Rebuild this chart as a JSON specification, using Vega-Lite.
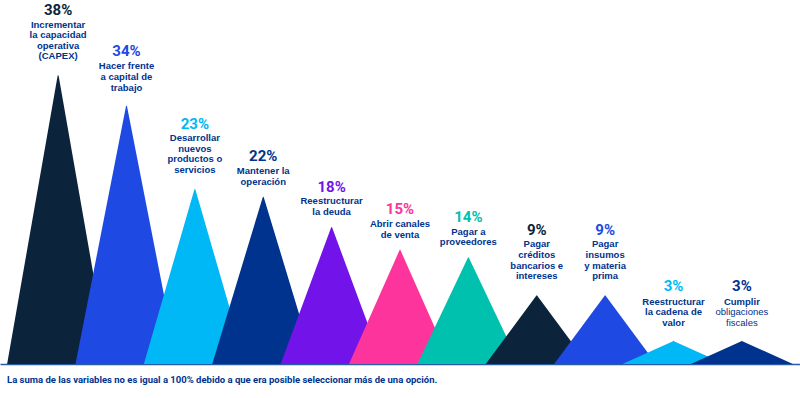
{
  "$schema": "https://vega.github.io/schema/vega-lite/v6.json",
  "width": 800,
  "height": 364,
  "autosize": {"type": "none"},
  "padding": {"left": 0, "top": 0, "right": 0, "bottom": 34},
  "background": "white",
  "config": {"view": {"stroke": null}},
  "title": {
    "text": "La suma de las variables no es igual a 100%  debido a que era posible seleccionar más de una opción.",
    "orient": "bottom",
    "anchor": "start",
    "font": "Roboto",
    "fontSize": 9.5,
    "fontWeight": "bold",
    "color": "#00338D",
    "offset": 11,
    "dx": 7
  },
  "data": {
    "values": [
      {"n": 1, "pct": 0.38, "base": 0, "desc": ["Incrementar", "la capacidad", "operativa", "(CAPEX)"]},
      {"n": 2, "pct": 0.34, "base": 0, "desc": ["Hacer frente", "a capital de", "trabajo"]},
      {"n": 3, "pct": 0.23, "base": 0, "desc": ["Desarrollar", "nuevos", "productos o", "servicios"]},
      {"n": 4, "pct": 0.22, "base": 0, "desc": ["Mantener la", "operación"]},
      {"n": 5, "pct": 0.18, "base": 0, "desc": ["Reestructurar", "la deuda"]},
      {"n": 6, "pct": 0.15, "base": 0, "desc": ["Abrir canales", "de venta"]},
      {"n": 7, "pct": 0.14, "base": 0, "desc": ["Pagar a", "proveedores"]},
      {"n": 8, "pct": 0.09, "base": 0, "desc": ["Pagar", "créditos", "bancarios e", "intereses"]},
      {"n": 9, "pct": 0.09, "base": 0, "desc": ["Pagar", "insumos", "y materia", "prima"]},
      {"n": 10, "pct": 0.03, "base": 0, "desc": ["Reestructurar", "la cadena de", "valor"]},
      {"n": 11, "pct": 0.03, "base": 0, "desc": ["Cumplir"], "reg": ["obligaciones", "fiscales"]}
    ]
  },
  "encoding": {
    "x": {
      "field": "n",
      "type": "ordinal",
      "scale": {"type": "point", "padding": 0.85},
      "axis": {"labels": false, "ticks": false, "title": null, "grid": false, "domainColor": "#2a5aa8", "domainWidth": 1.5}
    }
  },
  "layer": [
    {
      "transform": [{"fold": ["base", "pct"]}],
      "mark": {"type": "trail", "clip": true},
      "encoding": {
        "y": {"field": "value", "type": "quantitative", "scale": {"domain": [0, 0.48], "nice": false}, "axis": null},
        "size": {"field": "key", "type": "ordinal", "scale": {"domain": ["base", "pct"], "range": [102, 0]}, "legend": null},
        "order": {"field": "value", "type": "quantitative"},
        "color": {
          "field": "n",
          "type": "nominal",
          "scale": {"domain": [1, 2, 3, 4, 5, 6, 7, 8, 9, 10, 11], "range": ["#0C233C", "#1E49E2", "#00B8F5", "#00338D", "#7213EA", "#FD349C", "#00C0AE", "#0C233C", "#1E49E2", "#00B8F5", "#00338D"]},
          "legend": null
        }
      }
    },
    {
      "transform": [{"filter": "length(datum.desc) + (datum.reg ? length(datum.reg) : 0) == 4"}],
      "mark": {"type": "text", "font": "Roboto", "fontWeight": "bold", "fontSize": 15, "baseline": "alphabetic", "dy": -60.5},
      "encoding": {
        "y": {"field": "pct", "type": "quantitative"},
        "text": {"field": "pct", "format": ".0%"},
        "color": {"field": "n", "type": "nominal", "legend": null}
      }
    },
    {
      "transform": [{"filter": "length(datum.desc) + (datum.reg ? length(datum.reg) : 0) == 3"}],
      "mark": {"type": "text", "font": "Roboto", "fontWeight": "bold", "fontSize": 15, "baseline": "alphabetic", "dy": -50},
      "encoding": {
        "y": {"field": "pct", "type": "quantitative"},
        "text": {"field": "pct", "format": ".0%"},
        "color": {"field": "n", "type": "nominal", "legend": null}
      }
    },
    {
      "transform": [{"filter": "length(datum.desc) + (datum.reg ? length(datum.reg) : 0) == 2"}],
      "mark": {"type": "text", "font": "Roboto", "fontWeight": "bold", "fontSize": 15, "baseline": "alphabetic", "dy": -36},
      "encoding": {
        "y": {"field": "pct", "type": "quantitative"},
        "text": {"field": "pct", "format": ".0%"},
        "color": {"field": "n", "type": "nominal", "legend": null}
      }
    },
    {
      "transform": [{"filter": "length(datum.desc) == 4"}],
      "mark": {"type": "text", "font": "Liberation Sans", "fontWeight": "bold", "fontSize": 9.5, "lineHeight": 10.6, "baseline": "bottom", "dy": -46.3, "color": "#00338D"},
      "encoding": {
        "y": {"field": "pct", "type": "quantitative"},
        "text": {"field": "desc"}
      }
    },
    {
      "transform": [{"filter": "length(datum.desc) == 3"}],
      "mark": {"type": "text", "font": "Liberation Sans", "fontWeight": "bold", "fontSize": 9.5, "lineHeight": 10.6, "baseline": "bottom", "dy": -34.7, "color": "#00338D"},
      "encoding": {
        "y": {"field": "pct", "type": "quantitative"},
        "text": {"field": "desc"}
      }
    },
    {
      "transform": [{"filter": "length(datum.desc) == 2"}],
      "mark": {"type": "text", "font": "Liberation Sans", "fontWeight": "bold", "fontSize": 9.5, "lineHeight": 10.6, "baseline": "bottom", "dy": -21.1, "color": "#00338D"},
      "encoding": {
        "y": {"field": "pct", "type": "quantitative"},
        "text": {"field": "desc"}
      }
    },
    {
      "transform": [{"filter": "datum.reg"}],
      "mark": {"type": "text", "font": "Liberation Sans", "fontWeight": "bold", "fontSize": 9.5, "lineHeight": 10.6, "baseline": "bottom", "dy": -34.7, "color": "#00338D"},
      "encoding": {
        "y": {"field": "pct", "type": "quantitative"},
        "text": {"field": "desc"}
      }
    },
    {
      "transform": [{"filter": "datum.reg"}],
      "mark": {"type": "text", "font": "Liberation Sans", "fontWeight": "normal", "fontSize": 9.5, "lineHeight": 10.6, "baseline": "bottom", "dy": -24.1, "color": "#00338D"},
      "encoding": {
        "y": {"field": "pct", "type": "quantitative"},
        "text": {"field": "reg"}
      }
    }
  ]
}
